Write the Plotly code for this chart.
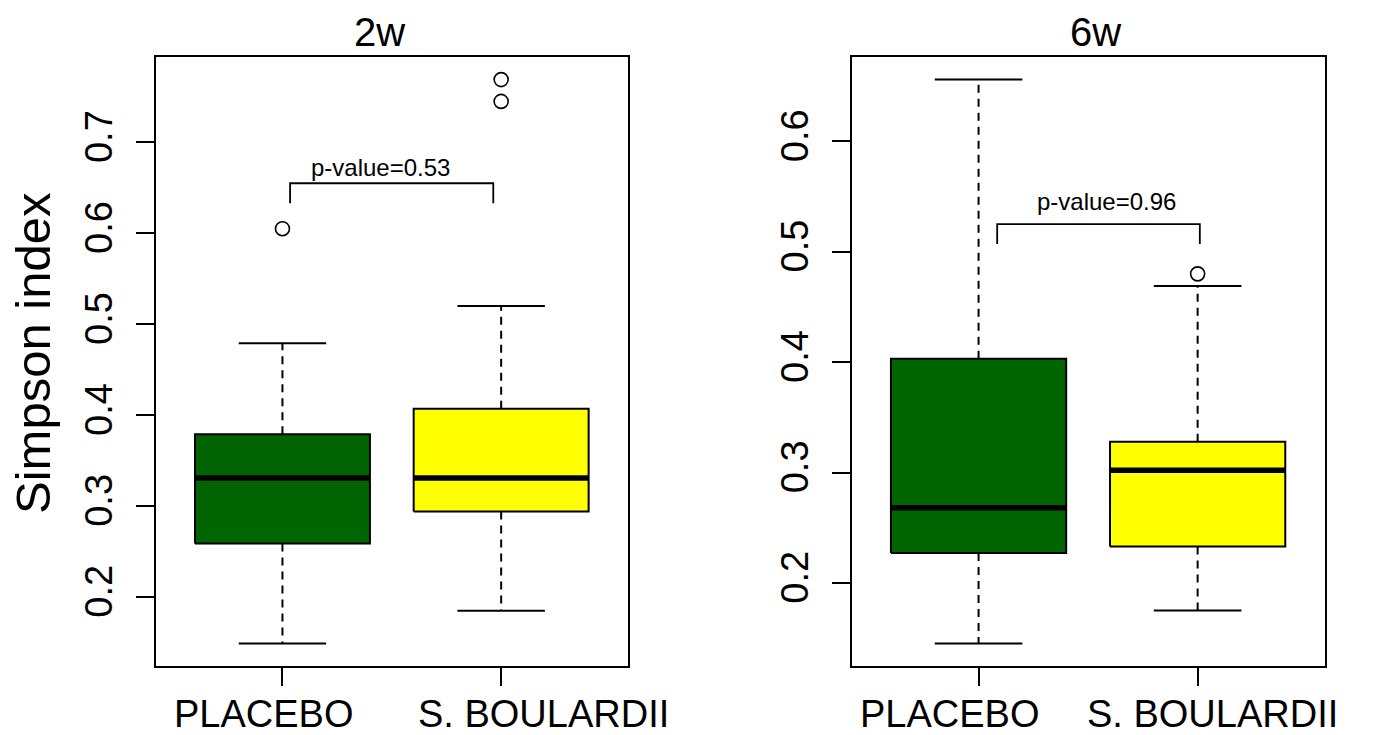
import plotly.graph_objects as go
from plotly.subplots import make_subplots

# ---------------- data ----------------
groups = ["PLACEBO", "S. BOULARDII"]
timepoints = ["2w", "6w"]
colors = ["#006400", "#FFFF00"]

w2_lower = [0.149, 0.185]
w2_q1 = [0.259, 0.294]
w2_median = [0.331, 0.331]
w2_q3 = [0.379, 0.407]
w2_upper = [0.479, 0.520]
w2_outliers = [[0.605], [0.745, 0.769]]

w6_lower = [0.145, 0.175]
w6_q1 = [0.227, 0.233]
w6_median = [0.268, 0.302]
w6_q3 = [0.403, 0.328]
w6_upper = [0.656, 0.469]
w6_outliers = [[], [0.480]]

pvalue_labels = ["p-value=0.53", "p-value=0.96"]
y_ticks_2w = [0.2, 0.3, 0.4, 0.5, 0.6, 0.7]
y_ticks_6w = [0.2, 0.3, 0.4, 0.5, 0.6]

panels = [
    dict(lower=w2_lower, q1=w2_q1, med=w2_median, q3=w2_q3, upper=w2_upper,
         out=w2_outliers, yticks=y_ticks_2w, yrange=[0.1245, 0.7935],
         bracket=dict(x0=1.035, x1=1.964, ytop=0.655, ybot=0.633, tx=1.45, ty=0.672),
         label_x=[0.915, 2.194]),
    dict(lower=w6_lower, q1=w6_q1, med=w6_median, q3=w6_q3, upper=w6_upper,
         out=w6_outliers, yticks=y_ticks_6w, yrange=[0.125, 0.6762],
         bracket=dict(x0=1.085, x1=2.01, ytop=0.5251, ybot=0.507, tx=1.585, ty=0.5453),
         label_x=[0.870, 2.07]),
]

W, H = 1375, 735
FONT = "Liberation Sans, Arial, Helvetica, sans-serif"

fig = make_subplots(rows=1, cols=2)

positions = [1, 2]
half_box = 0.4
half_cap = 0.2

for p_idx, pn in enumerate(panels):
    col = p_idx + 1
    xr = "x" if col == 1 else f"x{col}"
    yr = "y" if col == 1 else f"y{col}"
    for g in range(len(groups)):
        pos = positions[g]
        # whiskers (dashed)
        for a, b in [(pn["q3"][g], pn["upper"][g]), (pn["q1"][g], pn["lower"][g])]:
            fig.add_trace(go.Scatter(x=[pos, pos], y=[a, b], mode="lines",
                                     line=dict(color="black", width=2, dash="8px,6px"),
                                     hoverinfo="skip", showlegend=False), row=1, col=col)
        # caps
        for v in [pn["upper"][g], pn["lower"][g]]:
            fig.add_trace(go.Scatter(x=[pos - half_cap, pos + half_cap], y=[v, v], mode="lines",
                                     line=dict(color="black", width=2),
                                     hoverinfo="skip", showlegend=False), row=1, col=col)
        # box
        fig.add_trace(go.Scatter(
            x=[pos - half_box, pos + half_box, pos + half_box, pos - half_box, pos - half_box],
            y=[pn["q1"][g], pn["q1"][g], pn["q3"][g], pn["q3"][g], pn["q1"][g]],
            mode="lines", fill="toself", fillcolor=colors[g],
            line=dict(color="black", width=2), hoverinfo="skip", showlegend=False),
            row=1, col=col)
        # median
        fig.add_trace(go.Scatter(x=[pos - half_box, pos + half_box],
                                 y=[pn["med"][g], pn["med"][g]], mode="lines",
                                 line=dict(color="black", width=5.5),
                                 hoverinfo="skip", showlegend=False), row=1, col=col)
        # outliers
        if pn["out"][g]:
            fig.add_trace(go.Scatter(x=[pos] * len(pn["out"][g]), y=pn["out"][g], mode="markers",
                                     marker=dict(symbol="circle-open", size=14, color="black",
                                                 line=dict(width=1.6)),
                                     hoverinfo="skip", showlegend=False), row=1, col=col)
        # category label
        fig.add_annotation(x=pn["label_x"][g], y=1 - 714 / H, xref=xr, yref="paper",
                           text=groups[g], showarrow=False, xanchor="center", yanchor="middle",
                           font=dict(size=38, color="black", family=FONT), borderpad=0)
    # p-value bracket
    br = pn["bracket"]
    fig.add_trace(go.Scatter(x=[br["x0"], br["x0"], br["x1"], br["x1"]],
                             y=[br["ybot"], br["ytop"], br["ytop"], br["ybot"]],
                             mode="lines", line=dict(color="black", width=1.8),
                             hoverinfo="skip", showlegend=False), row=1, col=col)
    fig.add_annotation(x=br["tx"], y=br["ty"], text=pvalue_labels[p_idx], showarrow=False,
                       xref=xr, yref=yr,
                       font=dict(size=24, color="black", family=FONT),
                       xanchor="center", yanchor="middle")

axis_common = dict(showgrid=False, zeroline=False, showline=True, mirror=True,
                   linecolor="black", linewidth=2, ticks="outside", ticklen=18,
                   tickwidth=2, tickcolor="black",
                   tickfont=dict(size=38, color="black", family=FONT))

x_domains = [[155.6 / W, 628 / W], [851.5 / W, 1324.7 / W]]
y_domain = [(H - 665.7) / H, (H - 57.3) / H]

for i, pn in enumerate(panels):
    suffix = "" if i == 0 else str(i + 1)
    fig.update_layout(**{
        f"xaxis{suffix}": dict(axis_common, domain=x_domains[i], range=[0.42, 2.58],
                               tickvals=positions, ticktext=["", ""]),
        f"yaxis{suffix}": dict(axis_common, domain=y_domain, range=pn["yrange"],
                               tickvals=pn["yticks"],
                               ticktext=[f"{v:.1f}" for v in pn["yticks"]],
                               tickangle=-90, ticklabelstandoff=8),
    })

# panel titles
title_x = [379, 1095]
for i, t in enumerate(timepoints):
    fig.add_annotation(x=title_x[i] / W, y=1 - 32 / H, xref="paper", yref="paper",
                       text=t, showarrow=False, xanchor="center", yanchor="middle",
                       font=dict(size=40, color="black", family=FONT))

# y-axis title
fig.add_annotation(x=33 / W, y=1 - 354 / H, xref="paper", yref="paper",
                   text="Simpson index", textangle=-90, showarrow=False,
                   xanchor="center", yanchor="middle",
                   font=dict(size=49, color="black", family=FONT))

fig.update_layout(width=W, height=H, margin=dict(l=0, r=0, t=0, b=0),
                  paper_bgcolor="white", plot_bgcolor="white",
                  font=dict(family=FONT, color="black"), showlegend=False)

fig.write_html("out.html", config={"displayModeBar": False},
               post_script="document.body.style.margin='0';document.body.style.overflow='hidden';")
